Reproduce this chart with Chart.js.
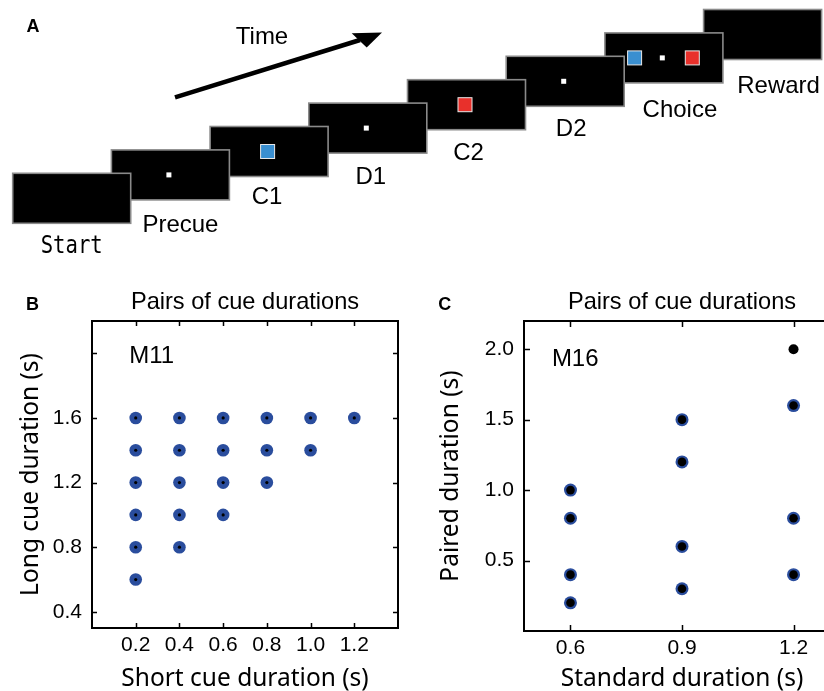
<!DOCTYPE html>
<html>
<head>
<meta charset="utf-8">
<script src="https://cdn.jsdelivr.net/npm/chart.js@4"></script>
<style>
  html, body { margin: 0; padding: 0; background: #fff; width: 824px; height: 691px; overflow: hidden; }
  .panel { position: absolute; }
</style>
</head>
<body>
<div class="panel" style="left:0;top:0;width:824px;height:270px"><canvas id="task"></canvas></div>
<div class="panel" style="left:0;top:280px;width:420px;height:420px"><canvas id="pairsB"></canvas></div>
<div class="panel" style="left:420px;top:280px;width:440px;height:420px"><canvas id="pairsC"></canvas></div>
<script>
// ---- panel A: task sequence ----
var stages = ['Start', 'Precue', 'C1', 'D1', 'C2', 'D2', 'Choice', 'Reward'];
var stageCues = [[], ['fix'], ['blue'], ['fix'], ['red'], ['fix'], ['blue', 'fix', 'red'], []];

// ---- panel B: monkey M11 ----
var shortCue = [0.2, 0.2, 0.2, 0.2, 0.2, 0.2, 0.4, 0.4, 0.4, 0.4, 0.4, 0.6, 0.6, 0.6, 0.6, 0.8, 0.8, 0.8, 1.0, 1.0, 1.2];
var longCue  = [0.6, 0.8, 1.0, 1.2, 1.4, 1.6, 0.8, 1.0, 1.2, 1.4, 1.6, 1.0, 1.2, 1.4, 1.6, 1.2, 1.4, 1.6, 1.4, 1.6, 1.6];
var shortTicks = [0.2, 0.4, 0.6, 0.8, 1.0, 1.2];
var longTicks = [0.4, 0.8, 1.2, 1.6, 2.0];

// ---- panel C: monkey M16 ----
var standardDur = [0.6, 0.6, 0.6, 0.6, 0.9, 0.9, 0.9, 0.9, 1.2, 1.2, 1.2];
var pairedDur   = [0.2, 0.4, 0.8, 1.0, 0.3, 0.6, 1.2, 1.5, 0.4, 0.8, 1.6];
var extraStandard = [1.2];
var extraPaired = [2.0];
var standardTicks = [0.6, 0.9, 1.2];
var pairedTicks = [0.5, 1.0, 1.5, 2.0];

var BLUE = '#2a4d9d';
var SANS = "'Liberation Sans', Arial, sans-serif";
var AXIS = "'Noto Sans', sans-serif";

function pts(xs, ys) {
  return xs.map(function (x, i) { return { x: x, y: ys[i] }; });
}

// task diagram, drawn on the canvas of an empty chart
var taskPlugin = {
  id: 'taskPlugin',
  afterDraw: function (chart) {
    var ctx = chart.ctx;
    ctx.save();
    ctx.fillStyle = '#000';
    ctx.font = 'bold 18px ' + SANS;
    ctx.fillText('A', 26.5, 31.7);

    // time arrow
    ctx.strokeStyle = '#000';
    ctx.lineWidth = 4.5;
    ctx.beginPath(); ctx.moveTo(175, 97.3); ctx.lineTo(360, 40); ctx.stroke();
    ctx.beginPath();
    ctx.moveTo(382, 32.5); ctx.lineTo(351.7, 33.3); ctx.lineTo(366.7, 47.5);
    ctx.closePath(); ctx.fill();
    ctx.font = '24px ' + SANS;
    ctx.textAlign = 'center';
    ctx.fillText('Time', 262, 44);

    var w = 118, h = 50;
    var labelDx = [0, 10, -2, 3, 2, 6, 16, 16];
    var labelDy = [30, 31.6, 27.7, 31, 30.7, 29.3, 34, 33];
    for (var i = stages.length - 1; i >= 0; i--) {
      var x0 = 12.7 + i * 98.7, y0 = 173.3 - i * 23.4;
      ctx.fillStyle = '#000';
      ctx.fillRect(x0, y0, w, h);
      ctx.strokeStyle = '#8a8a8a';
      ctx.lineWidth = 1.6;
      ctx.strokeRect(x0, y0, w, h);
      var cues = stageCues[i];
      var cy = y0 + h / 2;
      cues.forEach(function (c, k) {
        var cx = x0 + w / 2 - 1.5;
        if (cues.length > 1) cx = x0 + [29.7, 57.4, 87.4][k];
        if (c === 'fix') {
          ctx.fillStyle = '#fff';
          ctx.fillRect(cx - 2.5, cy - 2.5, 5, 5);
        } else {
          ctx.fillStyle = c === 'blue' ? '#3a8fd0' : '#e8302b';
          ctx.fillRect(cx - 7, cy - 7, 14, 14);
          ctx.strokeStyle = '#e8e8e8';
          ctx.lineWidth = 1;
          ctx.strokeRect(cx - 7, cy - 7, 14, 14);
        }
      });
    }
    for (var j = 0; j < stages.length; j++) {
      var lx = 12.7 + j * 98.7 + w / 2 + labelDx[j];
      var ly = 173.3 - j * 23.4 + h + labelDy[j];
      ctx.fillStyle = '#000';
      if (stages[j] === 'Start') {
        ctx.font = '24px "DejaVu Sans Mono", monospace';
        ctx.fillText(stages[j], lx, ly, 62);
      } else {
        ctx.font = '24px ' + SANS;
        ctx.fillText(stages[j], lx, ly);
      }
    }
    ctx.restore();
  }
};

new Chart(document.getElementById('task'), {
  type: 'scatter',
  data: { datasets: [] },
  options: {
    responsive: true, maintainAspectRatio: false, animation: false, events: [],
    plugins: { legend: { display: false }, tooltip: { enabled: false } },
    scales: { x: { display: false }, y: { display: false } }
  },
  plugins: [taskPlugin]
});

// box with inward ticks on all sides, panel letter, title and monkey name
var framePlugin = {
  id: 'frame',
  afterDraw: function (chart, args, o) {
    var ctx = chart.ctx, a = chart.chartArea, sx = chart.scales.x, sy = chart.scales.y;
    ctx.save();
    ctx.strokeStyle = '#000';
    ctx.lineWidth = 1.5;
    ctx.beginPath();
    sx.ticks.forEach(function (t) {
      var p = Math.round(sx.getPixelForValue(t.value)) + 0.5;
      ctx.moveTo(p, a.bottom); ctx.lineTo(p, a.bottom - o.tick);
      ctx.moveTo(p, a.top); ctx.lineTo(p, a.top + o.tick);
    });
    sy.ticks.forEach(function (t) {
      var p = Math.round(sy.getPixelForValue(t.value)) + 0.5;
      ctx.moveTo(a.left, p); ctx.lineTo(a.left + o.tick, p);
      ctx.moveTo(a.right, p); ctx.lineTo(a.right - o.tick, p);
    });
    ctx.stroke();
    ctx.lineWidth = 2;
    ctx.strokeRect(a.left, a.top, a.right - a.left, a.bottom - a.top);

    ctx.fillStyle = '#000';
    ctx.font = 'bold 18px ' + SANS;
    ctx.fillText(o.letter, o.letterX, 29.5);
    ctx.font = '23.6px ' + SANS;
    ctx.textAlign = 'center';
    ctx.fillText(o.title, (a.left + a.right) / 2, 29.3);
    ctx.textAlign = 'left';
    ctx.font = '24px ' + SANS;
    ctx.fillText(o.monkey, sx.getPixelForValue(o.monkeyAt[0]), sy.getPixelForValue(o.monkeyAt[1]));
    ctx.restore();
  }
};

function axis(min, max, tickVals, title, fit, titlePad, labelPad, hidden) {
  return {
    type: 'linear', min: min, max: max,
    afterBuildTicks: function (s) { s.ticks = tickVals.map(function (v) { return { value: v }; }); },
    afterFit: fit,
    grid: { display: false, drawTicks: false },
    border: { display: false },
    ticks: {
      color: '#000', padding: labelPad, autoSkip: false, maxRotation: 0,
      font: { family: SANS, size: 21 },
      callback: function (v) { return hidden.indexOf(v) >= 0 ? '' : v.toFixed(1); }
    },
    title: { display: true, text: title, color: '#000', padding: titlePad, font: { family: AXIS, size: 24.5 } }
  };
}

function baseOptions(xScale, yScale, frame, padRight) {
  return {
    responsive: true, maintainAspectRatio: false, animation: false, events: [],
    layout: { padding: { top: 41, right: padRight, left: 0, bottom: 0 } },
    plugins: { legend: { display: false }, tooltip: { enabled: false }, frame: frame },
    scales: { x: xScale, y: yScale }
  };
}

new Chart(document.getElementById('pairsB'), {
  type: 'scatter',
  data: {
    datasets: [
      { data: pts(shortCue, longCue), pointRadius: 1.6, backgroundColor: '#000', borderWidth: 0 },
      { data: pts(shortCue, longCue), pointRadius: 6.3, backgroundColor: BLUE, borderWidth: 0 }
    ]
  },
  options: baseOptions(
    axis(0, 1.4, shortTicks, 'Short cue duration (s)', function (s) { s.height = 72; }, { top: 0, bottom: 6 }, 5, []),
    axis(0.3, 2.2, longTicks, 'Long cue duration (s)', function (s) { s.width = 92; }, { top: 16, bottom: 0 }, 10, [2]),
    { tick: 5, letter: 'B', letterX: 26, title: 'Pairs of cue durations', monkey: 'M11', monkeyAt: [0.17, 1.94] },
    22),
  plugins: [framePlugin]
});

new Chart(document.getElementById('pairsC'), {
  type: 'scatter',
  data: {
    datasets: [
      { data: pts(extraStandard, extraPaired), pointRadius: 5, backgroundColor: '#000', borderWidth: 0 },
      { data: pts(standardDur, pairedDur), pointRadius: 4.3, backgroundColor: '#000', borderWidth: 0 },
      { data: pts(standardDur, pairedDur), pointRadius: 6.5, backgroundColor: BLUE, borderWidth: 0 }
    ]
  },
  options: baseOptions(
    axis(0.475, 1.325, standardTicks, 'Standard duration (s)', function (s) { s.height = 69; }, { top: 0, bottom: 6 }, 5, []),
    axis(0, 2.2, pairedTicks, 'Paired duration (s)', function (s) { s.width = 104; }, { top: 16, bottom: 0 }, 10, []),
    { tick: 6, letter: 'C', letterX: 18.3, title: 'Pairs of cue durations', monkey: 'M16', monkeyAt: [0.55, 1.88] },
    20),
  plugins: [framePlugin]
});
</script>
</body>
</html>
